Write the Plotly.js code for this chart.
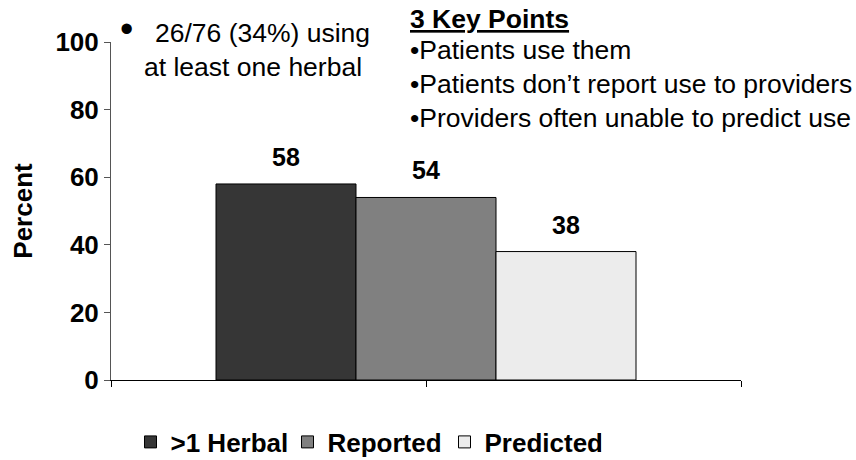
<!DOCTYPE html>
<html>
<head>
<meta charset="utf-8">
<script src="https://cdn.plot.ly/plotly-3.0.1.min.js"></script>
<style>html,body{margin:0;padding:0;background:#fff;}#chart{width:856px;height:460px;}</style>
</head>
<body>
<div id="chart"></div>
<script>
// ---- data ----
const seriesNames = [">1 Herbal", "Reported", "Predicted"];
const seriesValues = [58, 54, 38];
const seriesColors = ["#363636", "#808080", "#ececec"];
const yTickVals = [0, 20, 40, 60, 80, 100];
const noteLines = ["26/76 (34%) using", "at least one herbal"];
const keyTitle = "3 Key Points";
const keyPoints = ["•Patients use them", "•Patients don’t report use to providers", "•Providers often unable to predict use"];

const W = 856, H = 460;
const M = {l: 111, r: 115, t: 42, b: 80, autoexpand: false};
const PW = W - M.l - M.r, PH = H - M.t - M.b;
const px = x => (x - M.l) / PW;
const py = y => (H - M.b - y) / PH;
const FONT = "Liberation Sans, Arial, sans-serif";
const TS = 26.5;

const traces = seriesNames.map((name, i) => ({
  type: "bar",
  name: name,
  x: [0],
  y: [seriesValues[i]],
  marker: {color: seriesColors[i], line: {color: "#000", width: 1}},
  hoverinfo: "skip"
}));

const n = seriesNames.length;
const annotations = [];
seriesValues.forEach((v, i) => {
  annotations.push({
    xref: "x", yref: "y",
    x: -0.5 + (i + 0.5) / n, y: v,
    text: "<b>" + v + "</b>",
    showarrow: false, yanchor: "middle", yshift: 27,
    font: {family: FONT, size: 25, color: "#000"}
  });
});
// bullet note
annotations.push({xref: "paper", yref: "paper", x: px(126), y: py(29), xanchor: "center", yanchor: "middle",
  text: "•", showarrow: false, font: {family: FONT, size: 38, color: "#000"}});
annotations.push({xref: "paper", yref: "paper", x: px(153), y: py(33), xanchor: "left", yanchor: "middle",
  text: noteLines[0], showarrow: false, font: {family: FONT, size: TS, color: "#000"}});
annotations.push({xref: "paper", yref: "paper", x: px(142), y: py(67), xanchor: "left", yanchor: "middle",
  text: noteLines[1], showarrow: false, font: {family: FONT, size: TS, color: "#000"}});
// key points
annotations.push({xref: "paper", yref: "paper", x: px(408), y: py(19), xanchor: "left", yanchor: "middle",
  text: "<b><u>" + keyTitle + "</u></b>", showarrow: false, font: {family: FONT, size: TS, color: "#000"}});
const keyY = [50, 84, 118];
keyPoints.forEach((t, i) => {
  annotations.push({xref: "paper", yref: "paper", x: px(408), y: py(keyY[i]), xanchor: "left", yanchor: "middle",
    text: t, showarrow: false, font: {family: FONT, size: TS, color: "#000"}});
});

const layout = {
  width: W, height: H,
  margin: M,
  paper_bgcolor: "#fff", plot_bgcolor: "#fff",
  barmode: "group", bargap: 0, bargroupgap: 0,
  showlegend: true,
  legend: {orientation: "h", x: px(366), xanchor: "center", y: py(442), yanchor: "middle",
    font: {family: FONT, size: 26, color: "#000", weight: "bold"}, itemwidth: 30,
    entrywidth: 112, entrywidthmode: "pixels", bgcolor: "rgba(0,0,0,0)"},
  xaxis: {range: [-0.75, 0.75], tickvals: [-0.75, 0, 0.75], showticklabels: false,
    ticks: "outside", ticklen: 6, tickcolor: "#000", showline: true, linecolor: "#000", linewidth: 1,
    showgrid: false, zeroline: false, fixedrange: true},
  yaxis: {range: [0, 100], tickvals: yTickVals, ticks: "outside", ticklen: 6, tickcolor: "#555",
    showline: true, linecolor: "#555", linewidth: 1, showgrid: false, zeroline: false,
    tickfont: {family: FONT, size: 26, color: "#000", weight: "bold"},
    title: {text: "<b>Percent</b>", font: {family: FONT, size: 26, color: "#000"}, standoff: 15},
    fixedrange: true},
  annotations: annotations
};

Plotly.newPlot("chart", traces, layout, {displayModeBar: false, staticPlot: true});
</script>
</body>
</html>
